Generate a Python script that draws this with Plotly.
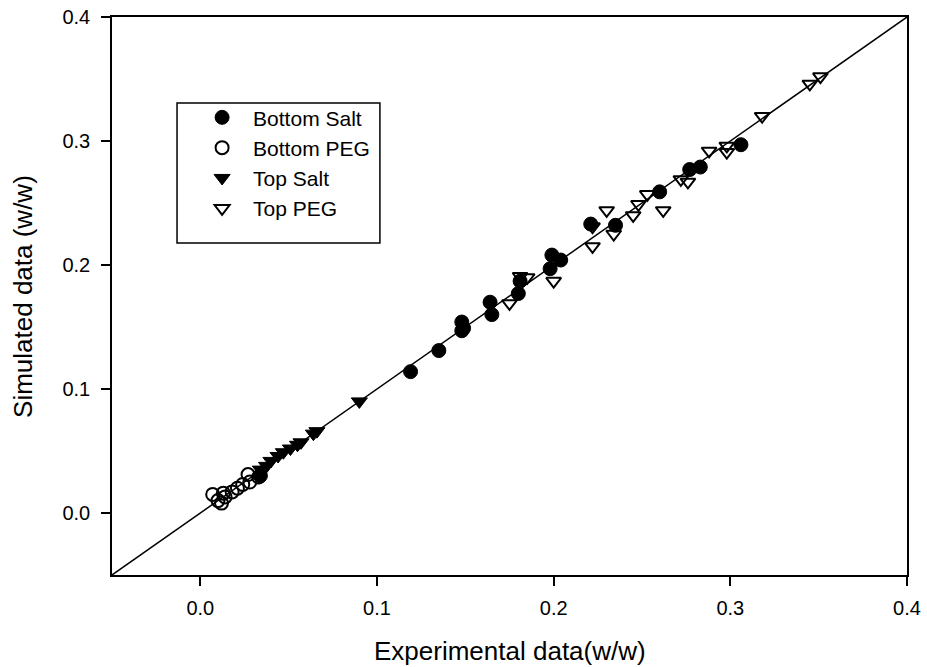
import plotly.graph_objects as go

bottom_salt_x = [0.034, 0.119, 0.135, 0.148, 0.148, 0.149, 0.164, 0.165, 0.180, 0.181, 0.198, 0.199, 0.204, 0.221, 0.235, 0.260, 0.277, 0.283, 0.306]
bottom_salt_y = [0.030, 0.114, 0.131, 0.154, 0.147, 0.149, 0.170, 0.160, 0.177, 0.187, 0.197, 0.208, 0.204, 0.233, 0.232, 0.259, 0.277, 0.279, 0.297]

bottom_peg_x = [0.007, 0.010, 0.012, 0.013, 0.014, 0.018, 0.021, 0.024, 0.027, 0.028, 0.033]
bottom_peg_y = [0.015, 0.010, 0.008, 0.016, 0.013, 0.017, 0.020, 0.023, 0.031, 0.025, 0.029]

top_salt_x = [0.034, 0.0375, 0.040, 0.044, 0.047, 0.051, 0.055, 0.057, 0.064, 0.066, 0.090]
top_salt_y = [0.035, 0.038, 0.042, 0.046, 0.049, 0.052, 0.055, 0.057, 0.064, 0.066, 0.090]

top_peg_x = [0.175, 0.181, 0.185, 0.200, 0.222, 0.222, 0.230, 0.234, 0.245, 0.248, 0.253, 0.262, 0.272, 0.276, 0.288, 0.298, 0.298, 0.318, 0.345, 0.351]
top_peg_y = [0.169, 0.191, 0.190, 0.187, 0.231, 0.215, 0.244, 0.225, 0.240, 0.249, 0.257, 0.244, 0.269, 0.267, 0.292, 0.296, 0.291, 0.320, 0.346, 0.352]

line_x = [-0.05, 0.4]
line_y = [-0.05, 0.4]

tick_vals = [0.0, 0.1, 0.2, 0.3, 0.4]
tick_text = ["0.0", "0.1", "0.2", "0.3", "0.4"]

x_title = "Experimental data(w/w)"
y_title = "Simulated data (w/w)"

fig = go.Figure()
fig.add_trace(go.Scatter(x=line_x, y=line_y, mode="lines",
                         line=dict(color="black", width=1.5), showlegend=False))
fig.add_trace(go.Scatter(x=bottom_salt_x, y=bottom_salt_y, mode="markers", name="Bottom Salt",
                         marker=dict(symbol="circle", size=14, color="black",
                                     line=dict(color="black", width=1))))
fig.add_trace(go.Scatter(x=bottom_peg_x, y=bottom_peg_y, mode="markers", name="Bottom PEG",
                         marker=dict(symbol="circle-open", size=13, color="black",
                                     line=dict(color="black", width=2))))
fig.add_trace(go.Scatter(x=top_salt_x, y=top_salt_y, mode="markers", name="Top Salt",
                         marker=dict(symbol="triangle-down", size=14, color="black",
                                     line=dict(color="black", width=1))))
fig.add_trace(go.Scatter(x=top_peg_x, y=top_peg_y, mode="markers", name="Top PEG",
                         marker=dict(symbol="triangle-down-open", size=13, color="black",
                                     line=dict(color="black", width=2))))

font_main = "Liberation Sans, Arial"
axis_common = dict(range=[-0.05, 0.4], tickvals=tick_vals, ticktext=tick_text,
                   showgrid=False, zeroline=False, showline=True, mirror=True,
                   linecolor="black", linewidth=1.5, ticks="outside", ticklen=9,
                   tickwidth=1.5, tickcolor="black", automargin=False,
                   tickfont=dict(size=20, family=font_main))

fig.update_layout(
    width=927, height=667,
    margin=dict(l=112, r=20, t=17, b=92),
    paper_bgcolor="white", plot_bgcolor="white",
    font=dict(family=font_main, color="black"),
    showlegend=True,
    legend=dict(x=0.0995, y=0.738, xanchor="left", yanchor="middle",
                borderwidth=0, bgcolor="rgba(0,0,0,0)",
                font=dict(size=21, family=font_main),
                itemwidth=52, tracegroupgap=0),
    xaxis=dict(**axis_common, ticklabelstandoff=5),
    yaxis=dict(**axis_common, ticklabelstandoff=7),
    shapes=[dict(type="rect", xref="paper", yref="paper",
                 x0=0.0818, x1=0.337, y0=0.595, y1=0.846,
                 line=dict(color="black", width=1.5), fillcolor="rgba(0,0,0,0)", layer="below")],
    annotations=[
        dict(text=x_title, xref="paper", yref="paper", x=0.5, y=-0.137,
             xanchor="center", yanchor="middle", showarrow=False,
             font=dict(size=26, family=font_main)),
        dict(text=y_title, xref="paper", yref="paper", x=-0.112, y=0.5,
             xanchor="center", yanchor="middle", showarrow=False, textangle=-90,
             font=dict(size=26, family=font_main)),
    ],
)

fig.write_html("out.html", config={"displayModeBar": False},
               post_script="document.body.style.margin='0px';document.body.style.overflow='hidden';")
